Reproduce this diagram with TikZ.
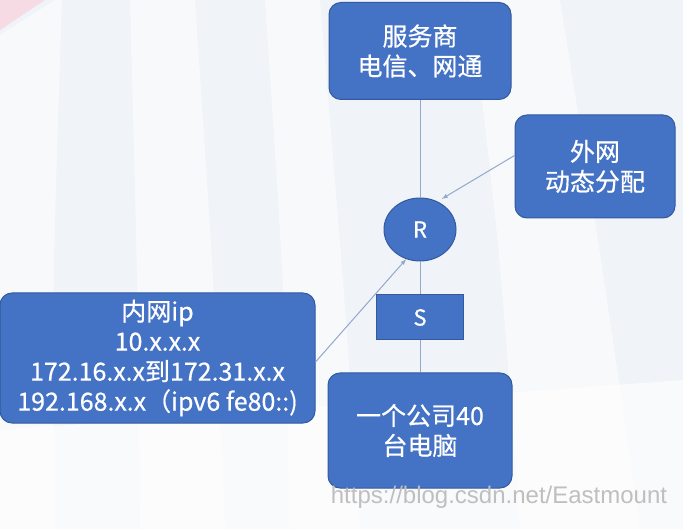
\documentclass[tikz,border=0pt]{standalone}
\usepackage{fontspec}
\usepackage{tikz}
\usetikzlibrary{shapes,arrows,positioning}
\newfontfamily\cjk[FakeBold=0.6]{Noto Sans CJK SC}
\newfontfamily\wmfont{Liberation Sans}
\definecolor{boxblue}{RGB}{68,114,196}
\definecolor{boxedge}{RGB}{50,90,160}
\definecolor{linkgray}{RGB}{148,168,204}
\definecolor{bgbase}{RGB}{240,243,247}
\definecolor{bgpink}{RGB}{246,218,228}

\tikzset{
    netbox/.style={draw=boxedge, line width=1pt, fill=boxblue, rounded corners=12pt,
        text=white, align=center, inner sep=0pt, font=\cjk\fontsize{25}{30}\selectfont},
    router/.style={ellipse, draw=boxedge, line width=1pt, fill=boxblue, text=white,
        inner sep=0pt, minimum width=72pt, minimum height=63pt, font=\cjk\fontsize{22}{26}\selectfont},
    switchbox/.style={draw=boxedge, line width=1pt, fill=boxblue, text=white,
        inner sep=0pt, minimum width=87pt, minimum height=45pt, font=\cjk\fontsize{22}{26}\selectfont},
    link/.style={draw=linkgray, line width=1pt},
    band/.style={fill=white, draw=none, opacity=0.55}
}

\begin{document}
\begin{tikzpicture}[x=1pt,y=-1pt]

    % background
    \fill[bgbase] (0,0) rectangle (683,529);
    \fill[bgpink] (0,0) -- (45,0) -- (0,30) -- cycle;
    \fill[band] (0,35) -- (55,0) -- (62,0) .. controls (52,300) .. (55,529) -- (0,529) -- cycle;
    \fill[band] (130,0) -- (195,0) .. controls (215,300) .. (225,529) -- (140,529) .. controls (138,300) .. cycle;
    \fill[band] (265,0) -- (320,0) .. controls (345,300) .. (360,529) -- (290,529) .. controls (285,300) .. cycle;
    \fill[band] (470,0) -- (560,0) .. controls (600,250) .. (640,529) -- (520,529) .. controls (500,250) .. cycle;
    \fill[white, opacity=0.6] (0,430) -- (683,380) -- (683,529) -- (0,529) -- cycle;
    \useasboundingbox (0,0) rectangle (683,529);

    % nodes
    \node[netbox, minimum width=182pt, minimum height=97pt] (isp) at (420,51) {服务商\\电信、网通};
    \node[netbox, minimum width=160pt, minimum height=103pt] (wan) at (595,166.5) {外网\\动态分配};
    \node[router] (R) at (420,229.5) {R};
    \node[switchbox] (S) at (420,317.5) {S};
    \node[netbox, minimum width=184pt, minimum height=115pt] (pcs) at (420,430.5) {一个公司40\\台电脑};
    \node[netbox, minimum width=315pt, minimum height=130pt] (lan) at (157.5,358)
        {内网ip\\10.x.x.x\\172.16.x.x到172.31.x.x\\192.168.x.x（ipv6 fe80::)};

    % links
    \draw[link] (isp.south) -- (R.north);
    \draw[link] (R.south) -- (S.north);
    \draw[link] (S.south) -- (pcs.north);
    \draw[link,-latex,shorten >=5pt] ([yshift=11pt]wan.west) -- (R.58);
    \draw[link,-latex] ([yshift=-4pt]lan.east) -- (R.245);

    % watermark
    \node[text=gray!50, font=\wmfont\fontsize{24}{28}\selectfont] (mark) at (499,497) {https://blog.csdn.net/Eastmount};

\end{tikzpicture}
\end{document}
